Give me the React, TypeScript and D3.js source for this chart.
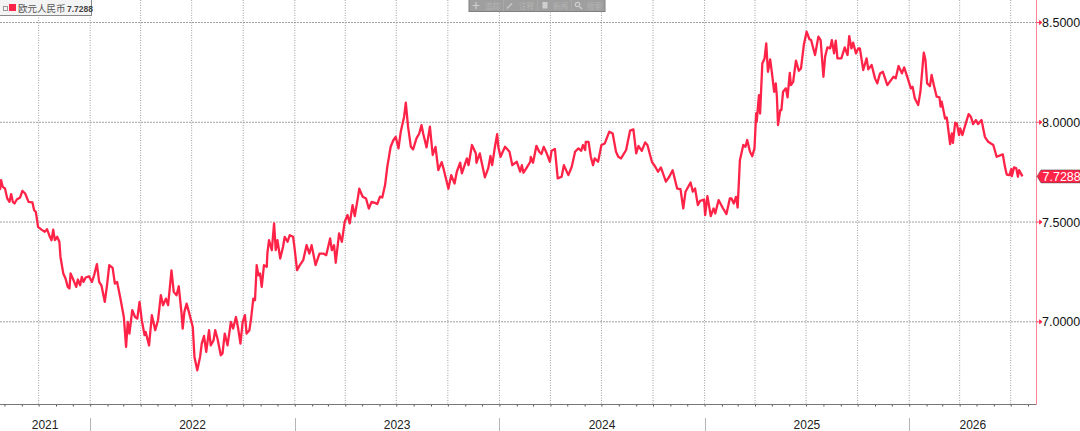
import { useEffect, useRef } from "react";
import * as d3 from "d3";

const WIDTH = 1080;
const HEIGHT = 431;

const START_DATE = new Date(Date.UTC(2021, 6, 24));
const LAST_VALUE = "7.7288";
const SERIES_NAME = "欧元人民币";
const yTicks = [7.0, 7.5, 8.0, 8.5];
const yearLabels = [2021, 2022, 2023, 2024, 2025, 2026];
const toolbarItems = ["追踪", "注释", "新闻", "搜索"];

// days since START_DATE
const dayOffsets = [
  0, 2, 5, 9, 13, 17, 20, 23, 26, 30, 36, 40, 45, 51, 58, 61, 64, 68, 74, 80, 84, 89, 92, 95, 98, 102, 106, 108, 113, 117,
  121, 124, 126, 130, 136, 139, 143, 146, 149, 153, 159, 164, 168, 173, 177, 181, 187, 191, 195, 201, 205, 209, 215, 221, 225, 228, 231, 236, 241, 245,
  249, 253, 258, 260, 266, 271, 277, 282, 287, 291, 296, 300, 306, 310, 315, 319, 324, 326, 329, 333, 337, 344, 347, 352, 357, 360, 364, 368, 373, 376,
  381, 384, 388, 394, 397, 401, 406, 412, 416, 421, 425, 429, 433, 437, 440, 445, 448, 452, 455, 458, 461, 464,
  467, 471, 476, 477, 480, 485, 489, 492, 495, 500, 505, 508, 513, 517, 523, 526, 530, 535, 541, 547, 552, 556, 563, 570, 577, 582, 589, 592, 596, 599,
  605, 610, 615, 620, 624, 629, 633, 639, 641, 647, 653, 658, 663, 669, 673, 678, 682, 687, 691, 697, 702, 706, 711, 715, 721, 724, 728, 733, 737, 743,
  748, 752, 755, 761, 767, 772, 777, 782, 788, 792, 800, 805, 811, 815, 821, 824, 833, 836, 842, 849, 850, 856, 865, 871, 875, 878, 883, 887, 889, 893,
  901, 909, 914, 922, 928,
  931, 934, 940, 946, 947, 951, 957, 962, 966, 970, 975, 981, 984, 990, 995, 1002, 1006, 1014, 1020, 1026, 1032, 1037, 1040, 1044, 1045, 1050, 1054, 1058, 1061, 1067,
  1073, 1079, 1087, 1093, 1099, 1103, 1108, 1117, 1124, 1130, 1135, 1139, 1145, 1151, 1155, 1163, 1169, 1174, 1179, 1188, 1194, 1200, 1208, 1214, 1219, 1223, 1232, 1236, 1240, 1245,
  1249, 1256, 1258, 1262, 1268, 1273, 1276, 1282, 1289, 1296, 1302,
  1305, 1309, 1313, 1316, 1320, 1326, 1330, 1333, 1338, 1342, 1346, 1349, 1350, 1354, 1356, 1360, 1364, 1367, 1370, 1374, 1378, 1381, 1384, 1386, 1388, 1392, 1394, 1397, 1402, 1405,
  1409, 1411, 1415, 1420, 1425, 1429, 1434, 1439, 1444, 1447, 1454, 1460, 1464, 1469, 1472, 1476, 1481, 1484, 1488, 1491, 1494, 1501, 1507, 1512, 1515, 1519, 1522, 1527, 1531, 1534,
  1540, 1546, 1549, 1555, 1561, 1565, 1570, 1575, 1583, 1594, 1598, 1603, 1609, 1613, 1620, 1625, 1628, 1632, 1638, 1642, 1648, 1651, 1654, 1659, 1662, 1666, 1671, 1676, 1678, 1680,
  1686, 1689, 1695, 1698, 1700, 1704, 1707, 1711, 1713, 1717, 1722, 1728, 1732, 1736, 1741, 1745, 1751, 1757, 1763, 1772, 1778, 1789, 1793, 1796, 1801, 1804, 1805, 1809, 1813, 1816, 1818, 1824,
];

const eurCny = [
  7.66, 7.71, 7.676, 7.668, 7.618, 7.601, 7.64, 7.601, 7.593, 7.613, 7.623, 7.656, 7.643, 7.601, 7.598, 7.559, 7.551, 7.476, 7.462, 7.451, 7.464, 7.426, 7.409, 7.462, 7.409, 7.426, 7.401, 7.325, 7.242, 7.217,
  7.175, 7.167, 7.242, 7.217, 7.175, 7.212, 7.183, 7.225, 7.2, 7.222, 7.228, 7.2, 7.233, 7.289, 7.2, 7.183, 7.1, 7.183, 7.284, 7.27, 7.192, 7.2, 7.116, 7.024, 6.874, 7.0, 6.941, 7.058, 7.024, 7.016,
  7.1, 7.008, 6.933, 6.949, 6.882, 7.033, 6.958, 7.008, 7.133, 7.083, 7.116, 7.083, 7.258, 7.15, 7.133, 7.178, 7.041, 6.966, 7.05, 7.091, 7.05, 6.974, 6.824, 6.757, 6.824, 6.891, 6.929, 6.849, 6.958, 6.882,
  6.907, 6.958, 6.916, 6.832, 6.841, 6.941, 6.882, 6.999, 6.966, 7.024, 6.966, 6.891, 6.999, 7.033, 6.941, 6.958, 7.016, 7.116, 7.108, 7.284, 7.233, 7.242,
  7.175, 7.284, 7.276, 7.342, 7.409, 7.359, 7.493, 7.359, 7.409, 7.317, 7.376, 7.426, 7.401, 7.434, 7.426, 7.359, 7.259, 7.284, 7.309, 7.384, 7.342, 7.384, 7.284, 7.342, 7.342, 7.334, 7.418, 7.359, 7.384, 7.296,
  7.443, 7.401, 7.501, 7.535, 7.493, 7.585, 7.53, 7.63, 7.667, 7.627, 7.618, 7.568, 7.601, 7.596, 7.59, 7.627, 7.623, 7.685, 7.777, 7.877, 7.911, 7.927, 7.869, 7.953, 8.028, 8.098, 7.978, 7.877, 7.864, 7.919,
  7.944, 7.986, 7.944, 7.874, 7.978, 7.836, 7.877, 7.76, 7.8, 7.76, 7.667, 7.735, 7.693, 7.752, 7.797, 7.744, 7.819, 7.785, 7.886, 7.844, 7.797, 7.844, 7.724, 7.769, 7.831, 7.785, 7.877, 7.941, 7.877, 7.827,
  7.877, 7.852, 7.785, 7.802, 7.752,
  7.785, 7.747, 7.774, 7.802, 7.827, 7.797, 7.882, 7.852, 7.841, 7.877, 7.847, 7.802, 7.857, 7.866, 7.719, 7.727, 7.785, 7.735, 7.777, 7.852, 7.869, 7.857, 7.886, 7.861, 7.902, 7.902, 7.827, 7.785, 7.819, 7.802,
  7.886, 7.894, 7.953, 7.944, 7.852, 7.827, 7.819, 7.861, 7.958, 7.964, 7.844, 7.881, 7.857, 7.899, 7.886, 7.802, 7.777, 7.752, 7.774, 7.702, 7.727, 7.76, 7.668, 7.665, 7.568, 7.652, 7.698, 7.652, 7.668, 7.585,
  7.606, 7.613, 7.535, 7.63, 7.53, 7.568, 7.543, 7.61, 7.573, 7.54, 7.618,
  7.618, 7.593, 7.626, 7.573, 7.81, 7.886, 7.877, 7.911, 7.852, 7.83, 7.869, 8.044, 8.003, 8.136, 8.044, 8.295, 8.32, 8.395, 8.253, 8.315, 8.228, 8.153, 8.195, 8.128, 7.986, 8.061, 8.061, 8.153, 8.17, 8.125,
  8.248, 8.186, 8.203, 8.309, 8.258, 8.27, 8.387, 8.454, 8.416, 8.412, 8.337, 8.429, 8.412, 8.228, 8.329, 8.375, 8.37, 8.412, 8.345, 8.409, 8.32, 8.32, 8.375, 8.337, 8.432, 8.37, 8.399, 8.345, 8.37, 8.37,
  8.262, 8.32, 8.265, 8.287, 8.22, 8.195, 8.245, 8.253, 8.186, 8.228, 8.22, 8.282, 8.245, 8.275, 8.215, 8.17, 8.178, 8.12, 8.086, 8.153, 8.349, 8.312, 8.195, 8.181, 8.237, 8.186, 8.128, 8.125, 8.078, 8.103,
  8.019, 8.024, 7.891, 7.944, 7.897, 7.998, 7.994, 7.936, 7.969, 7.936, 7.986, 8.041, 8.028, 7.991, 8.011, 7.991, 8.011, 7.927, 7.902, 7.886, 7.827, 7.839, 7.774, 7.738, 7.735, 7.765, 7.73, 7.774, 7.769, 7.727, 7.76, 7.7288,
];

const RED = "#ff2348";
const FONT = "'Liberation Sans', Arial, sans-serif";

export default function App() {
  const svgRef = useRef<SVGSVGElement | null>(null);

  useEffect(() => {
    const plotRight = 1036.5;
    const plotBottom = 404.5;

    const x = d3.scaleUtc()
      .domain([new Date(Date.UTC(2022, 0, 1)), new Date(Date.UTC(2026, 0, 1))])
      .range([90.2, 909.2]);
    const y = d3.scaleLinear().domain([7, 8.5]).range([321.8, 22.5]);

    const svg = d3.select(svgRef.current);
    svg.selectAll("*").remove();

    const xEnd = x.invert(plotRight);
    const xStart = x.invert(0);
    const quarters = d3.utcMonth.every(3)!.range(xStart, xEnd);
    const months = d3.utcMonth.range(xStart, xEnd);
    const years = d3.utcYear.range(xStart, xEnd);

    // grid
    const grid = svg.append("g").attr("stroke", "#a0a0a0");
    grid.selectAll("line.v")
      .data(quarters)
      .enter()
      .append("line")
      .attr("x1", d => x(d))
      .attr("x2", d => x(d))
      .attr("y1", 0)
      .attr("y2", plotBottom)
      .attr("stroke-dasharray", "1 1.5");
    grid.selectAll("line.h")
      .data(yTicks)
      .enter()
      .append("line")
      .attr("x1", 0)
      .attr("x2", plotRight)
      .attr("y1", d => y(d))
      .attr("y2", d => y(d))
      .attr("stroke-dasharray", "2 1");

    // month ticks on the bottom axis
    const xAxis = d3.axisBottom(x).tickValues(months).tickSize(2).tickFormat(() => "");
    const xAxisGroup = svg.append("g").attr("transform", `translate(0,${plotBottom})`).call(xAxis);
    xAxisGroup.select(".domain").remove();
    xAxisGroup.selectAll("line").attr("stroke", "#555");
    svg.append("line")
      .attr("x1", 0).attr("x2", plotRight)
      .attr("y1", plotBottom).attr("y2", plotBottom)
      .attr("stroke", "#777");

    // year separators and labels
    svg.selectAll("line.sep")
      .data(years)
      .enter()
      .append("line")
      .attr("x1", d => Math.round(x(d)) + 0.5)
      .attr("x2", d => Math.round(x(d)) + 0.5)
      .attr("y1", 418)
      .attr("y2", HEIGHT)
      .attr("stroke", "#b5b5b5");
    const bounds = [0, ...years.map(d => x(d)), plotRight];
    svg.selectAll("text.year")
      .data(yearLabels)
      .enter()
      .append("text")
      .attr("x", (_d, i) => (bounds[i] + bounds[i + 1]) / 2)
      .attr("y", 428.5)
      .attr("text-anchor", "middle")
      .attr("font-family", FONT)
      .attr("font-size", 12)
      .attr("fill", "#222")
      .text(d => d);

    // right axis
    svg.append("line")
      .attr("x1", plotRight).attr("x2", plotRight)
      .attr("y1", 0).attr("y2", plotBottom)
      .attr("stroke", "#ff8496");
    const yAxis = svg.append("g");
    yAxis.selectAll("path")
      .data(yTicks)
      .enter()
      .append("path")
      .attr("d", d => `M${plotRight},${y(d)}h3l0,-2l2.5,2l-2.5,2l0,-2`)
      .attr("stroke", RED)
      .attr("fill", RED)
      .attr("stroke-width", 0.8);
    yAxis.selectAll("text")
      .data(yTicks)
      .enter()
      .append("text")
      .attr("x", 1042)
      .attr("y", d => y(d) + 4.5)
      .attr("font-family", FONT)
      .attr("font-size", 12.5)
      .attr("fill", "#111")
      .text(d => d.toFixed(4));

    // price line
    const dates = dayOffsets.map(d => d3.utcDay.offset(START_DATE, d));
    const line = d3.line<number>()
      .x((_d, i) => x(dates[i]))
      .y(d => y(d));
    svg.append("path")
      .datum(eurCny)
      .attr("fill", "none")
      .attr("stroke", RED)
      .attr("stroke-width", 2.3)
      .attr("stroke-linejoin", "round")
      .attr("d", line);

    // last value badge
    const lastY = y(eurCny[eurCny.length - 1]);
    svg.append("path")
      .attr("d", `M1037,${lastY}l4,-6.5H1080V${lastY + 6.5}H1041Z`)
      .attr("fill", RED)
      .attr("stroke", "#444")
      .attr("stroke-width", 0.5);
    svg.append("text")
      .attr("x", 1042.5)
      .attr("y", lastY + 4.5)
      .attr("font-family", FONT)
      .attr("font-size", 12.5)
      .attr("fill", "#fff")
      .text(LAST_VALUE);

    // legend box
    const legend = svg.append("g");
    legend.append("rect")
      .attr("x", -2).attr("y", -2).attr("width", 93.5).attr("height", 17.5)
      .attr("fill", "#f4f4f4").attr("stroke", "#8a8a8a");
    legend.append("rect")
      .attr("x", 3.5).attr("y", 6.5).attr("width", 4).attr("height", 4)
      .attr("fill", "none").attr("stroke", "#999");
    legend.append("rect")
      .attr("x", 9).attr("y", 4).attr("width", 7).attr("height", 7).attr("fill", RED);
    legend.append("text")
      .attr("x", 18).attr("y", 12)
      .attr("font-family", "'Noto Sans CJK SC'")
      .attr("font-size", 9.5)
      .attr("fill", "#555")
      .text(SERIES_NAME);
    legend.append("text")
      .attr("x", 67).attr("y", 11.5)
      .attr("font-family", FONT)
      .attr("font-size", 8.5)
      .attr("font-weight", "bold")
      .attr("fill", "#444")
      .text(LAST_VALUE);

    // faded toolbar at the top
    const step = 34;
    const toolbar = svg.append("g");
    toolbar.append("rect")
      .attr("x", 469).attr("y", -2).attr("width", 136).attr("height", 13.5)
      .attr("fill", "#9f9f9f").attr("stroke", "#808080");
    toolbar.selectAll("text")
      .data(toolbarItems)
      .enter()
      .append("text")
      .attr("x", (_d, i) => 485 + i * step)
      .attr("y", 8.5)
      .attr("font-family", "'Noto Sans CJK SC'")
      .attr("font-size", 7.5)
      .attr("fill", "#b4b4b4")
      .text(d => d);
    toolbar.selectAll("line.div")
      .data(toolbarItems.slice(1))
      .enter()
      .append("line")
      .attr("x1", (_d, i) => 503.5 + i * step)
      .attr("x2", (_d, i) => 503.5 + i * step)
      .attr("y1", 0)
      .attr("y2", 11)
      .attr("stroke", "#a9a9a9");
    const icons = toolbar.append("g").attr("stroke", "#cfcfcf").attr("fill", "none").attr("stroke-width", 1.2);
    icons.append("path").attr("d", "M472.5,5.5h7M476,2v7");
    icons.append("path").attr("d", "M507,8.5l5,-5");
    icons.append("rect").attr("x", 542.5).attr("y", 2).attr("width", 5).attr("height", 6.5).attr("fill", "#cfcfcf").attr("stroke", "none");
    icons.append("circle").attr("cx", 577.5).attr("cy", 4.5).attr("r", 2.2);
    icons.append("path").attr("d", "M579.5,6.5l2.5,2.5");
  }, []);

  return (
    <svg
      ref={svgRef}
      width={WIDTH}
      height={HEIGHT}
      style={{ position: "absolute", left: 0, top: 0, background: "#fff" }}
    />
  );
}
